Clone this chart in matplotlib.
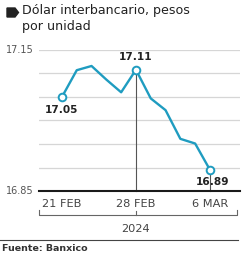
import matplotlib
matplotlib.use("Agg")
import matplotlib.pyplot as plt
from matplotlib.patches import Polygon
from matplotlib.lines import Line2D
import matplotlib.transforms as mtransforms

# Data (business days 21 Feb - 6 Mar 2024)
dates = ["21 FEB", "22 FEB", "23 FEB", "26 FEB", "27 FEB", "28 FEB",
         "29 FEB", "1 MAR", "4 MAR", "5 MAR", "6 MAR"]
values = [17.05, 17.107, 17.116, 17.087, 17.06, 17.108,
          17.047, 17.022, 16.961, 16.951, 16.895]
tick_labels = ["21 FEB", "28 FEB", "6 MAR"]
tick_idx = [0, 5, 10]
marked_idx = [0, 5, 10]
marked_labels = ["17.05", "17.11", "16.89"]
ytick_vals = [16.85, 17.15]
grid_vals = [16.90, 16.95, 17.00, 17.05, 17.10, 17.15]
year_label = "2024"
title = "Dólar interbancario, pesos\npor unidad"
source = "Fuente: Banxico"

W, H = 246, 254
fig = plt.figure(figsize=(W / 100, H / 100), dpi=100)
fig.patch.set_facecolor("white")

def fx(px):
    return px / W

def fy(py):
    return 1 - py / H

ax = fig.add_axes([fx(39), fy(191), fx(240) - fx(39), fy(50) - fy(191)])
x = list(range(len(values)))
ax.set_xlim(-1.55, 12.03)
ax.set_ylim(16.85, 17.15)

for g in grid_vals:
    ax.axhline(g, color="#d6d6d6", lw=0.9, zorder=1)
ax.axhline(16.85, color="#1a1a1a", lw=1.5, zorder=4, clip_on=False)

for s in ax.spines.values():
    s.set_visible(False)
ax.set_xticks([])
ax.set_yticks([])

line_color = "#1f9cc0"
# vertical guide lines
for i in [5, 10]:
    ax.plot([i, i], [16.85, values[i]], color="#555555", lw=0.8, zorder=2,
            clip_on=False)
ax.plot(x, values, color=line_color, lw=1.7, zorder=3, solid_joinstyle="round")
ax.plot([x[i] for i in marked_idx], [values[i] for i in marked_idx], "o",
        ms=5.5, mfc="white", mec=line_color, mew=1.4, zorder=5)

lab_font = "DejaVu Sans"
ax.text(0, 17.05 - 0.018, marked_labels[0], ha="center", va="top",
        fontsize=7.6, fontweight="bold", color="#222222", family=lab_font, zorder=6)
ax.text(5, 17.108 + 0.016, marked_labels[1], ha="center", va="bottom",
        fontsize=7.6, fontweight="bold", color="#222222", family=lab_font, zorder=6)
ax.text(10.2, 16.869, marked_labels[2], ha="center", va="center",
        fontsize=7.6, fontweight="bold", color="#222222", family=lab_font, zorder=6)

# y labels
tick_font = "Liberation Sans Narrow"
for v in ytick_vals:
    ax.text(-1.9, v, f"{v:.2f}", ha="right", va="center", fontsize=7,
            color="#555555", family=[tick_font, "DejaVu Sans"])

trans = mtransforms.blended_transform_factory(ax.transData, ax.transAxes)
for i, lab in zip(tick_idx, tick_labels):
    ax.text(i, -0.09, lab, transform=trans, ha="center", va="center",
            fontsize=8.2, color="#444444", family=[tick_font, "DejaVu Sans"])

# bracket
bx0, bx1 = -1.55, 11.8
ax.add_line(Line2D([bx0, bx0, bx1, bx1], [-0.135, -0.17, -0.17, -0.135],
                   transform=trans, color="#666666", lw=0.8, clip_on=False))
ax.add_line(Line2D([5, 5], [-0.17, -0.14], transform=trans, color="#666666",
                   lw=0.8, clip_on=False))
ax.text(5, -0.27, year_label, transform=trans, ha="center", va="center",
        fontsize=8.2, color="#444444", family=[tick_font, "DejaVu Sans"])

# bottom rule
fig.add_artist(Line2D([fx(0), fx(238)], [fy(240), fy(240)], color="#444444",
                      lw=0.8))
fig.text(fx(2), fy(253), source, ha="left", va="bottom", fontsize=6.8,
         fontweight="bold", color="#333333")

# title with bullet
fig.add_artist(Polygon([(fx(7), fy(8)), (fx(15), fy(8)), (fx(18.5), fy(12.5)),
                        (fx(15), fy(17)), (fx(7), fy(17))], closed=True,
                       color="#222222"))
fig.text(fx(21.5), fy(4), title, ha="left", va="top", fontsize=9.1,
         color="#222222", linespacing=1.3)

fig.savefig("out.png", dpi=100)
